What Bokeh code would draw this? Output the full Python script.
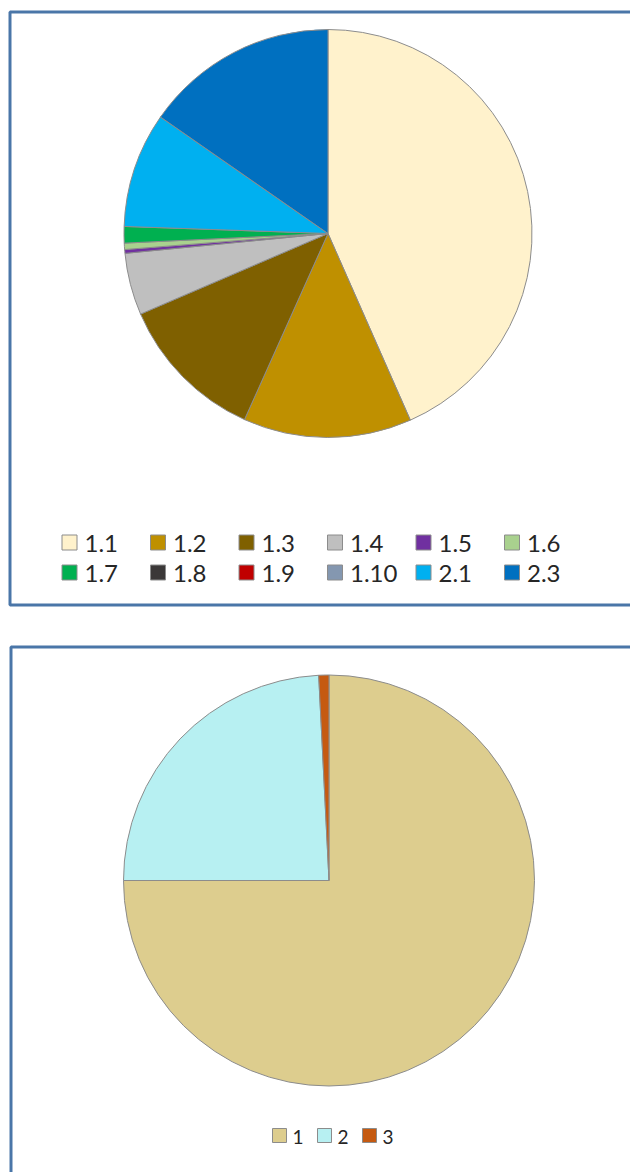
import numpy as np
from bokeh.plotting import figure
from bokeh.models import ColumnDataSource, Range1d
from bokeh.core.properties import value
from bokeh.embed import file_html
from bokeh.resources import INLINE

# ---- data ----
cats1 = ["1.1", "1.2", "1.3", "1.4", "1.5", "1.6", "1.7", "1.8", "1.9", "1.10", "2.1", "2.3"]
vals1 = [43.3, 13.3, 11.8, 4.9, 0.3, 0.5, 1.3, 0.0, 0.0, 0.0, 9.1, 15.3]
cols1 = ["#FFF2CC", "#BF9000", "#7F6000", "#BFBFBF", "#7030A0", "#A9D18E",
         "#00B050", "#3B3838", "#C00000", "#8497B0", "#00B0F0", "#0070C0"]

cats2 = ["1", "2", "3"]
vals2 = [75.0, 24.2, 0.8]
cols2 = ["#DDCD8E", "#B7F0F2", "#C55A11"]

W, H = 630, 1172
BORDER = "#4A76A8"
EDGE = "#8C8C8C"

p = figure(width=W, height=H, output_backend="svg", toolbar_location=None,
           x_range=Range1d(0, W), y_range=Range1d(0, H), min_border=0)
p.axis.visible = False
p.grid.visible = False
p.outline_line_color = None
p.background_fill_color = "white"


def Y(y):  # screen y (top-down) to data y
    return H - y


# frames
p.quad(left=[9.5, 10.5], right=[700, 700], top=[Y(11.5), Y(646.5)],
       bottom=[Y(604.5), Y(1300)], fill_color=None, line_color=BORDER, line_width=3)


def pie(vals, cols, cx, cy, r):
    v = np.array(vals, dtype=float)
    frac = v / v.sum()
    cum = np.concatenate([[0], np.cumsum(frac)])
    start = np.pi / 2 - cum[1:] * 2 * np.pi
    end = np.pi / 2 - cum[:-1] * 2 * np.pi
    keep = v > 0
    src = ColumnDataSource(dict(start=start[keep], end=end[keep],
                                color=[c for c, k in zip(cols, keep) if k]))
    p.wedge(x=cx, y=Y(cy), radius=r, start_angle="start", end_angle="end",
            fill_color="color", line_color=EDGE, line_width=1, source=src)


pie(vals1, cols1, 327.5, 233, 204)
pie(vals2, cols2, 328.5, 880, 205.5)

# legend 1
lx = [69 + 88.5 * (i % 6) for i in range(12)]
ly = [542 if i < 6 else 572 for i in range(12)]
p.rect(x=lx, y=[Y(v) for v in ly], width=15, height=15, fill_color=cols1,
       line_color="#8C8C8C", line_width=1)
p.text(x=[v + 15 for v in lx], y=[Y(v + 1) for v in ly], text=cats1,
       text_font=value("Lato"), text_font_size="24px", text_color="#262626",
       text_baseline="middle", text_align="left")

# legend 2
l2x = [279, 324, 369]
p.rect(x=l2x, y=[Y(1135)] * 3, width=14, height=14, fill_color=cols2,
       line_color="#8C8C8C", line_width=1)
p.text(x=[v + 13 for v in l2x], y=[Y(1136)] * 3, text=cats2,
       text_font=value("Lato"), text_font_size="19px", text_color="#262626",
       text_baseline="middle", text_align="left")

open("out.html", "w").write(file_html(p, INLINE))
